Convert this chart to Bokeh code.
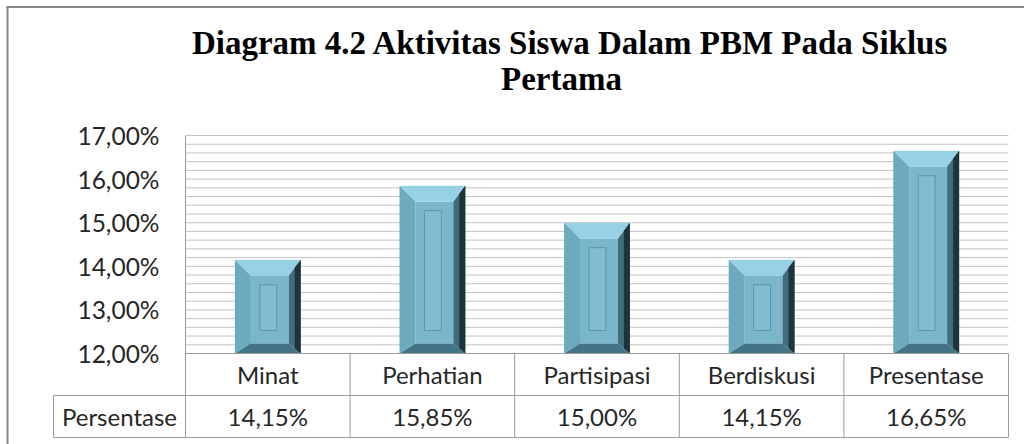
from bokeh.plotting import figure
from bokeh.models import Range1d, LinearAxis, FixedTicker, Label
from bokeh.core.properties import value
from bokeh.embed import file_html
from bokeh.resources import INLINE

# ---------------- data ----------------
categories = ["Minat", "Perhatian", "Partisipasi", "Berdiskusi", "Presentase"]
persentase = [14.15, 15.85, 15.00, 14.15, 16.65]
series_name = "Persentase"
y_ticks = [12, 13, 14, 15, 16, 17]
y_tick_labels = ["12,00%", "13,00%", "14,00%", "15,00%", "16,00%", "17,00%"]
title_lines = ["Diagram 4.2 Aktivitas Siswa Dalam PBM Pada Siklus", "Pertama"]

# ---------------- layout (pixels) ----------------
W, H = 1024, 444
PLOT_LEFT = 185.0      # canvas x where categories start
CAT_W = 164.6          # px per category
Y_BASE = 353.0         # canvas y (from top) of the 12% line
PX_PER_UNIT = 43.6     # px per 1%
Y_MIN, Y_MAX = 12, 17
ROW1_PX, ROW2_PX = 42.0, 42.0
LEFT_COL_PX = 132.0

def du(px):
    return px / CAT_W

def dv(px):
    return px / PX_PER_UNIT

x_range = Range1d(-PLOT_LEFT / CAT_W, (W - PLOT_LEFT) / CAT_W)
y_range = Range1d(Y_MIN - (H - Y_BASE) / PX_PER_UNIT, Y_MIN + Y_BASE / PX_PER_UNIT)

p = figure(width=W, height=H, x_range=x_range, y_range=y_range,
           x_axis_type=None, y_axis_type=None, toolbar_location=None,
           output_backend="svg", min_border=0)
p.outline_line_color = None
p.background_fill_color = "white"
p.border_fill_color = "white"

n = len(categories)
GRID_COLOR = "#c4c4c4"
TABLE_COLOR = "#9c9c9c"
TEXT_COLOR = "#262626"

# ---------------- grid lines every 0.2% ----------------
steps = int(round((Y_MAX - Y_MIN) / 0.2))
grid_y = [Y_MIN + 0.2 * k for k in range(1, steps + 1)]
p.segment(x0=[0] * len(grid_y), x1=[n] * len(grid_y), y0=grid_y, y1=grid_y,
          line_color=GRID_COLOR, line_width=1)

# ---------------- bars (bevelled) ----------------
half = 0.2
bl, br = du(16), du(12)
bt, bb = dv(16), dv(10)
top_xs, top_ys, left_xs, left_ys = [], [], [], []
right_xs, right_ys, rdark_xs, rdark_ys = [], [], [], []
bot_xs, bot_ys = [], []
face = dict(l=[], r=[], b=[], t=[])
inner = dict(l=[], r=[], b=[], t=[])
for i, v in enumerate(persentase):
    x0, x1 = i + 0.5 - half, i + 0.5 + half
    y0, y1 = Y_MIN, v
    top_xs.append([x0, x1, x1 - br, x0 + bl]); top_ys.append([y1, y1, y1 - bt, y1 - bt])
    left_xs.append([x0, x0, x0 + bl, x0 + bl]); left_ys.append([y0, y1, y1 - bt, y0 + bb])
    right_xs.append([x1, x1, x1 - br, x1 - br]); right_ys.append([y0, y1, y1 - bt, y0 + bb])
    rdark_xs.append([x1, x1, x1 - br / 2, x1 - br / 2]); rdark_ys.append([y0, y1, y1 - bt / 2, y0 + bb / 2])
    bot_xs.append([x0, x1, x1 - br, x0 + bl]); bot_ys.append([y0, y0, y0 + bb, y0 + bb])
    face["l"].append(x0 + bl); face["r"].append(x1 - br)
    face["b"].append(y0 + bb); face["t"].append(y1 - bt)
    inner["l"].append(x0 + du(25)); inner["r"].append(x1 - du(24))
    inner["b"].append(y0 + dv(23)); inner["t"].append(y1 - dv(25))

p.quad(left=face["l"], right=face["r"], bottom=face["b"], top=face["t"],
       fill_color="#79b6ca", line_color=None)
p.patches(xs=top_xs, ys=top_ys, fill_color="#97d1e5", line_color=None)
p.patches(xs=left_xs, ys=left_ys, fill_color="#6caabf", line_color=None)
p.patches(xs=right_xs, ys=right_ys, fill_color="#3f6d7c", line_color=None)
p.patches(xs=rdark_xs, ys=rdark_ys, fill_color="#1d343c", line_color=None)
p.patches(xs=bot_xs, ys=bot_ys, fill_color="#437485", line_color=None)
p.quad(left=inner["l"], right=inner["r"], bottom=inner["b"], top=inner["t"],
       fill_color="#80bdd2", line_color="#5a96aa", line_width=1)

# ---------------- data table ----------------
r1 = dv(ROW1_PX)
r2 = dv(ROW2_PX)
row1_y = Y_MIN - r1 / 2
row2_y = Y_MIN - r1 - r2 / 2
y_sep = Y_MIN - r1
y_bot = Y_MIN - r1 - r2
xl = -du(LEFT_COL_PX)

hx0 = [0, xl, xl]
hx1 = [n, n, n]
hy = [Y_MIN, y_sep, y_bot]
p.segment(x0=hx0, x1=hx1, y0=hy, y1=hy, line_color=TABLE_COLOR, line_width=1)
vx = [0] + list(range(1, n + 1)) + [xl]
vy0 = [Y_MAX] + [Y_MIN] * n + [y_sep]
vy1 = [y_bot] * (n + 2)
p.segment(x0=vx, x1=vx, y0=vy0, y1=vy1, line_color=TABLE_COLOR, line_width=1)

centers = [i + 0.5 for i in range(n)]
p.text(x=centers, y=[row1_y] * n, text=categories, text_font=value("Lato"),
       text_font_size="24px", text_align="center", text_baseline="middle",
       text_color=TEXT_COLOR)
val_labels = [f"{v:.2f}".replace(".", ",") + "%" for v in persentase]
p.text(x=centers, y=[row2_y] * n, text=val_labels, text_font=value("Lato"),
       text_font_size="24px", text_align="center", text_baseline="middle",
       text_color=TEXT_COLOR)
p.text(x=[xl / 2], y=[row2_y], text=[series_name], text_font=value("Lato"),
       text_font_size="24px", text_align="center", text_baseline="middle",
       text_color=TEXT_COLOR)

# ---------------- y axis ----------------
yaxis = LinearAxis(fixed_location=0, bounds=(Y_MIN, Y_MAX),
                   ticker=FixedTicker(ticks=y_ticks),
                   major_label_overrides={t: l for t, l in zip(y_ticks, y_tick_labels)})
yaxis.axis_line_color = None
yaxis.major_tick_line_color = None
yaxis.minor_tick_line_color = None
yaxis.major_tick_in = 0
yaxis.major_tick_out = 0
yaxis.major_label_standoff = 26
yaxis.major_label_text_font = "Lato"
yaxis.major_label_text_font_size = "24.5px"
yaxis.major_label_text_color = TEXT_COLOR
p.add_layout(yaxis, "left")

# ---------------- outer border (left and top) ----------------
p.segment(x0=[x_range.start + du(6), x_range.start + du(7)],
          x1=[x_range.end, x_range.start + du(7)],
          y0=[y_range.end - dv(6.5), y_range.end - dv(6)],
          y1=[y_range.end - dv(6.5), y_range.start],
          line_color="#868686", line_width=2)

# ---------------- title ----------------
p.add_layout(Label(x=570, y=H - 42, x_units="screen", y_units="screen",
                   text=title_lines[0], text_font="Liberation Serif",
                   text_font_style="bold", text_font_size="33px",
                   text_align="center", text_baseline="alphabetic", text_color="black"))
p.add_layout(Label(x=561, y=H - 78, x_units="screen", y_units="screen",
                   text=title_lines[1], text_font="Liberation Serif",
                   text_font_style="bold", text_font_size="33px",
                   text_align="center", text_baseline="alphabetic", text_color="black"))

open("out.html", "w").write(file_html(p, INLINE))
